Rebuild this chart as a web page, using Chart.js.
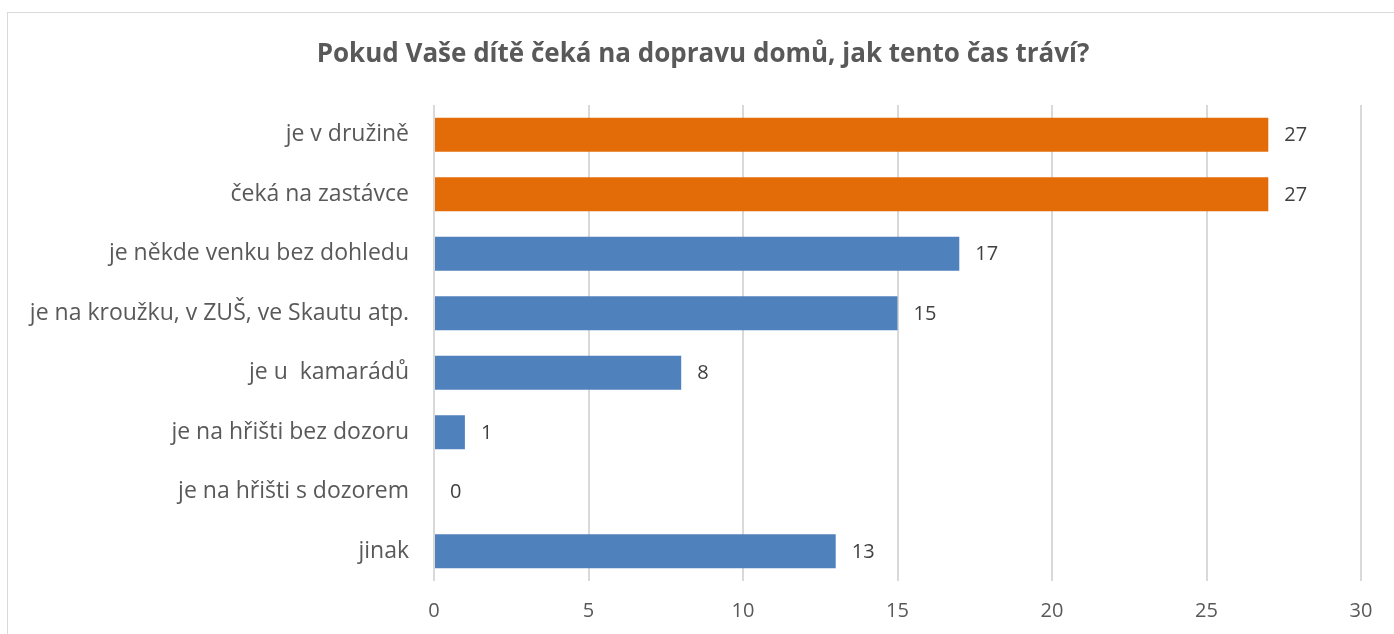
<!DOCTYPE html>
<html>
<head>
<meta charset="utf-8">
<script src="https://cdn.jsdelivr.net/npm/chart.js@4/dist/chart.umd.min.js"></script>
<style>
  html, body { margin: 0; padding: 0; background: #fff; }
  #wrap { position: relative; width: 1394px; height: 634px; overflow: hidden; }
  #frame {
    position: absolute; left: 7px; top: 12px; width: 1400px; height: 640px;
    border: 1px solid #d9d9d9; box-sizing: border-box;
  }
  #chart { position: absolute; left: 0; top: 0; }
</style>
</head>
<body>
<div id="wrap">
  <div id="frame"></div>
  <canvas id="chart" width="1394" height="634"></canvas>
</div>
<script>
const categories = [
  "je v družině",
  "čeká na zastávce",
  "je někde venku bez dohledu",
  "je na kroužku, v ZUŠ, ve Skautu atp.",
  "je u  kamarádů",
  "je na hřišti bez dozoru",
  "je na hřišti s dozorem",
  "jinak",
];
const counts = [27, 27, 17, 15, 8, 1, 0, 13];
const barColors = [
  "#E36C09", "#E36C09", "#4F81BD", "#4F81BD",
  "#4F81BD", "#4F81BD", "#4F81BD", "#4F81BD",
];
const xTicks = [0, 5, 10, 15, 20, 25, 30];
const chartTitle = "Pokud Vaše dítě čeká na dopravu domů, jak tento čas tráví?";

const FONT = "'Open Sans', 'Noto Sans', sans-serif";

// title drawn by hand so it can sit centred on the whole frame
const titleText = {
  id: "titleText",
  afterDraw(chart) {
    const ctx = chart.ctx;
    ctx.save();
    ctx.font = "bold 26px " + FONT;
    ctx.fillStyle = "#595959";
    ctx.textAlign = "center";
    ctx.textBaseline = "middle";
    ctx.fillText(chartTitle, 703, 55);
    ctx.restore();
  },
};

// value labels to the right of each bar
const valueLabels = {
  id: "valueLabels",
  afterDatasetsDraw(chart) {
    const ctx = chart.ctx;
    const meta = chart.getDatasetMeta(0);
    ctx.save();
    ctx.font = "20px " + FONT;
    ctx.fillStyle = "#404040";
    ctx.textAlign = "left";
    ctx.textBaseline = "middle";
    meta.data.forEach((bar, i) => {
      ctx.fillText(String(counts[i]), bar.x + 16, bar.y + 1);
    });
    ctx.restore();
  },
};

new Chart(document.getElementById("chart"), {
  type: "bar",
  data: {
    labels: categories,
    datasets: [
      {
        data: counts,
        backgroundColor: barColors,
        barPercentage: 0.57,
        categoryPercentage: 1,
      },
    ],
  },
  options: {
    indexAxis: "y",
    responsive: false,
    animation: false,
    layout: { padding: { left: 0, right: 33, top: 105, bottom: 0 } },
    plugins: {
      legend: { display: false },
      tooltip: { enabled: false },
      title: { display: false },
    },
    scales: {
      x: {
        min: 0,
        max: 30,
        afterBuildTicks(scale) {
          scale.ticks = xTicks.map((v) => ({ value: v }));
        },
        afterFit(scale) {
          scale.height = 53;
        },
        grid: { color: "#d9d9d9", lineWidth: 2, drawTicks: false },
        border: { display: false },
        ticks: {
          color: "#595959",
          padding: 18,
          font: { family: FONT, size: 20 },
        },
      },
      y: {
        afterFit(scale) {
          scale.width = 434;
        },
        grid: { display: false },
        border: { display: false },
        ticks: {
          color: "#595959",
          padding: 17,
          font: { family: FONT, size: 23 },
        },
      },
    },
  },
  plugins: [valueLabels, titleText],
});
</script>
</body>
</html>
